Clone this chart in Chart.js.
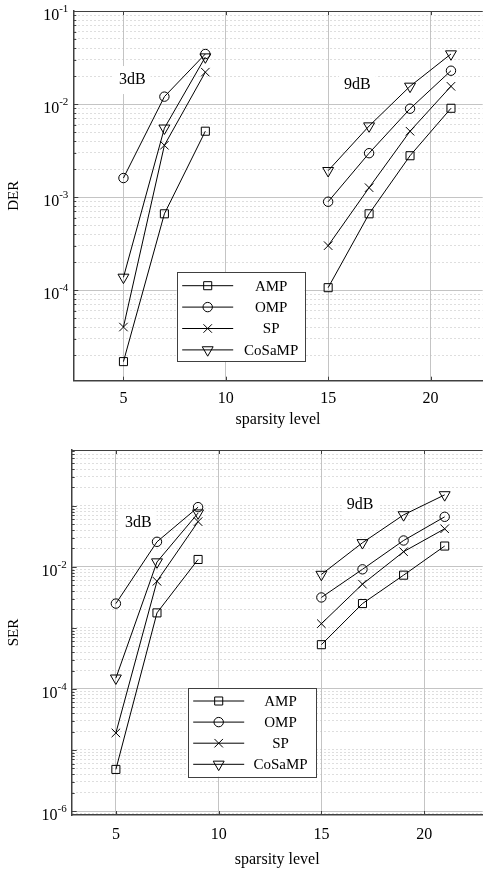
<!DOCTYPE html>
<html><head><meta charset="utf-8">
<script src="https://cdn.jsdelivr.net/npm/chart.js@4/dist/chart.umd.min.js"></script>
<style>
html,body{margin:0;padding:0;background:#fff;overflow:hidden;width:484px;height:871px;}
#der{position:absolute;left:0;top:0;}
#ser{position:absolute;left:0;top:440px;}
</style></head><body>
<canvas id="der" width="490" height="440"></canvas>
<canvas id="ser" width="490" height="431"></canvas>
<script>
// ---------------- data ----------------
const algorithms = ['AMP', 'OMP', 'SP', 'CoSaMP'];
const sparsity3dB = [5, 7, 9];
const sparsity9dB = [15, 17, 19, 21];
const xTickValues = [5, 10, 15, 20];
const derTickExponents = [-4, -3, -2, -1];
const serTickExponents = [-6, -4, -2];

// DER (top panel)
const derAMP3 = [1.7e-5, 6.6e-4, 5.1e-3];
const derOMP3 = [1.6e-3, 1.2e-2, 3.45e-2];
const derSP3 = [4.0e-5, 3.6e-3, 2.2e-2];
const derCoSaMP3 = [1.37e-4, 5.5e-3, 3.2e-2];
const derAMP9 = [1.06e-4, 6.6e-4, 2.78e-3, 9.0e-3];
const derOMP9 = [8.9e-4, 2.96e-3, 8.9e-3, 2.28e-2];
const derSP9 = [3.0e-4, 1.26e-3, 5.1e-3, 1.55e-2];
const derCoSaMP9 = [1.92e-3, 5.8e-3, 1.55e-2, 3.45e-2];

// SER (bottom panel)
const serAMP3 = [4.8e-6, 1.76e-3, 1.32e-2];
const serOMP3 = [2.5e-3, 2.57e-2, 9.5e-2];
const serSP3 = [1.9e-5, 5.8e-3, 5.5e-2];
const serCoSaMP3 = [1.5e-4, 1.2e-2, 7.6e-2];
const serAMP9 = [5.3e-4, 2.5e-3, 7.3e-3, 2.19e-2];
const serOMP9 = [3.15e-3, 9.1e-3, 2.7e-2, 6.6e-2];
const serSP9 = [1.17e-3, 5.2e-3, 1.77e-2, 4.2e-2];
const serCoSaMP9 = [7.5e-3, 2.48e-2, 7.1e-2, 0.151];

const derLabels = [{text: '3dB', x: 5.43, y: 0.0181}, {text: '9dB', x: 16.43, y: 0.0161}];
const serLabels = [{text: '3dB', x: 6.09, y: 0.0518}, {text: '9dB', x: 16.88, y: 0.1026}];

// ---------------- styling ----------------
const FONT = "'Liberation Serif', 'Times New Roman', serif";
const AXIS = '#404040';
const MAJOR = '#c4c4c4';
const MINOR = '#bdbdbd';
const markerStyle = {
  AMP: {pointStyle: 'rect', radius: 5.7, rotation: 0},
  OMP: {pointStyle: 'circle', radius: 4.7, rotation: 0},
  SP: {pointStyle: 'crossRot', radius: 6, rotation: 0},
  CoSaMP: {pointStyle: 'triangle', radius: 6.3, rotation: 180}
};

function makeDatasets(series3, series9) {
  const ds = [];
  algorithms.forEach((name, i) => {
    const st = markerStyle[name];
    const base = {
      label: name, borderColor: '#000', borderWidth: 1, showLine: true, tension: 0,
      pointStyle: st.pointStyle, pointRadius: st.radius, pointRotation: st.rotation,
      pointBorderColor: '#000', pointBackgroundColor: 'rgba(0,0,0,0)', pointBorderWidth: 1,
      pointHoverRadius: st.radius, clip: false
    };
    ds.push(Object.assign({}, base, {data: sparsity3dB.map((x, k) => ({x, y: series3[i][k]}))}));
    ds.push(Object.assign({}, base, {data: sparsity9dB.map((x, k) => ({x, y: series9[i][k]}))}));
  });
  return ds;
}

function logTicks(min, max) {
  const t = [];
  for (let e = Math.floor(Math.log10(min)); e <= Math.ceil(Math.log10(max)); e++) {
    for (let m = 1; m <= 9; m++) {
      const v = m * Math.pow(10, e);
      if (v >= min * 0.9999 && v <= max * 1.0001) t.push({value: v, m: m, e: e});
    }
  }
  return t;
}

const framePlugin = {
  id: 'frame',
  afterDraw(chart, args, opts) {
    const {ctx, chartArea: a, scales} = chart;
    ctx.save();
    ctx.strokeStyle = AXIS;
    ctx.lineWidth = 1;
    ctx.beginPath();
    ctx.moveTo(a.left, a.top + 0.5);
    ctx.lineTo(a.right, a.top + 0.5);
    ctx.stroke();
    // inward tick marks
    ctx.beginPath();
    scales.y.ticks.forEach(t => {
      const y = Math.round(scales.y.getPixelForValue(t.value)) + 0.5;
      const len = t.m === 1 ? 5 : 3;
      ctx.moveTo(a.left, y); ctx.lineTo(a.left + len, y);
    });
    scales.x.ticks.forEach(t => {
      const x = Math.round(scales.x.getPixelForValue(t.value)) + 0.5;
      ctx.moveTo(x, a.bottom); ctx.lineTo(x, a.bottom - 4);
      ctx.moveTo(x, a.top); ctx.lineTo(x, a.top + 4);
    });
    ctx.stroke();
    // y tick labels as 10 with raised exponent
    ctx.fillStyle = '#000';
    ctx.textBaseline = 'middle';
    ctx.textAlign = 'right';
    scales.y.ticks.forEach(t => {
      if (!(t.m === 1 && opts.exps.includes(t.e))) return;
      const y = scales.y.getPixelForValue(t.value);
      const ex = String(t.e);
      ctx.font = '11px ' + FONT;
      const ew = ctx.measureText(ex).width;
      const right = a.left - 5;
      ctx.fillText(ex, right, y - 2);
      ctx.font = '16px ' + FONT;
      ctx.fillText('10', right - ew, y + 5);
    });
    ctx.restore();
  }
};

const textPlugin = {
  id: 'dbText',
  beforeDatasetsDraw(chart, args, opts) {
    const {ctx, scales} = chart;
    ctx.save();
    ctx.font = '16px ' + FONT;
    ctx.textAlign = 'center';
    ctx.textBaseline = 'middle';
    opts.items.forEach(it => {
      const x = scales.x.getPixelForValue(it.x);
      const y = scales.y.getPixelForValue(it.y);
      const w = ctx.measureText(it.text).width;
      ctx.fillStyle = '#fff';
      ctx.fillRect(x - w / 2 - 5, y - 14, w + 10, 28);
      ctx.fillStyle = '#000';
      ctx.fillText(it.text, x, y);
    });
    ctx.restore();
  }
};

const legendPlugin = {
  id: 'boxLegend',
  afterDatasetsDraw(chart, args, opts) {
    const {ctx, chartArea: a} = chart;
    const x0 = a.left + opts.dx, y0 = a.top + opts.dy;
    ctx.save();
    ctx.fillStyle = '#fff';
    ctx.fillRect(x0, y0, opts.w, opts.h);
    ctx.strokeStyle = AXIS;
    ctx.lineWidth = 1;
    ctx.strokeRect(Math.round(x0) + 0.5, Math.round(y0) + 0.5, Math.round(opts.w), Math.round(opts.h));
    ctx.font = '15px ' + FONT;
    ctx.textAlign = 'center';
    ctx.textBaseline = 'middle';
    algorithms.forEach((name, i) => {
      const y = y0 + opts.first + i * opts.step;
      const st = markerStyle[name];
      ctx.strokeStyle = '#000';
      ctx.lineWidth = 1;
      ctx.beginPath();
      ctx.moveTo(x0 + 5.5, y); ctx.lineTo(x0 + 56.5, y);
      ctx.stroke();
      ctx.fillStyle = 'rgba(0,0,0,0)';
      Chart.helpers.drawPoint(ctx, {pointStyle: st.pointStyle, rotation: st.rotation, radius: st.radius, borderWidth: 1}, x0 + 31, y);
      ctx.fillStyle = '#000';
      ctx.fillText(name, x0 + opts.textX, y + 1);
    });
    ctx.restore();
  }
};

function makeChart(id, cfg) {
  const isLabeled = t => t && t.m === 1 && cfg.exps.includes(t.e);
  return new Chart(document.getElementById(id), {
    type: 'scatter',
    data: {datasets: makeDatasets(cfg.s3, cfg.s9)},
    plugins: [textPlugin, legendPlugin, framePlugin],
    options: {
      responsive: false,
      animation: false,
      events: [],
      layout: {padding: {top: cfg.padTop, right: cfg.padRight, left: 0, bottom: 0}},
      plugins: {
        legend: {display: false},
        tooltip: {enabled: false},
        dbText: {items: cfg.labels},
        boxLegend: cfg.legend,
        frame: {exps: cfg.exps}
      },
      scales: {
        x: {
          type: 'linear', min: cfg.xmin, max: cfg.xmax,
          afterBuildTicks: s => { s.ticks = xTickValues.map(v => ({value: v})); },
          afterFit: s => { s.height = cfg.xh; s.paddingLeft = 0; s.paddingRight = 0; },
          ticks: {color: '#000', font: {family: FONT, size: 16}, padding: cfg.xTickPad, autoSkip: false, maxRotation: 0,
                  callback: v => String(v)},
          grid: {color: MAJOR, lineWidth: 1, drawTicks: false},
          border: {color: AXIS, width: 1.5},
          title: {display: true, text: 'sparsity level', color: '#000', font: {family: FONT, size: 16}, padding: {top: 0, bottom: cfg.xTitlePad}}
        },
        y: {
          type: 'logarithmic', min: cfg.ymin, max: cfg.ymax,
          afterBuildTicks: s => { s.ticks = logTicks(cfg.ymin, cfg.ymax); },
          afterFit: s => { s.width = cfg.yw; s.paddingTop = 0; s.paddingBottom = 0; },
          ticks: {color: '#000', font: {family: FONT, size: 16}, padding: 5, autoSkip: false,
                  callback: () => ''},
          grid: {
            drawTicks: false, lineWidth: 1,
            color: c => isLabeled(c.tick) ? MAJOR : MINOR
          },
          border: {color: AXIS, width: 1.5, dash: c => (c.tick && !isLabeled(c.tick)) ? [1, 3] : []},
          title: {display: true, text: cfg.ytitle, color: '#000', font: {family: FONT, size: 15}, padding: {top: 5, bottom: 0}}
        }
      }
    }
  });
}

makeChart('der', {
  s3: [derAMP3, derOMP3, derSP3, derCoSaMP3],
  s9: [derAMP9, derOMP9, derSP9, derCoSaMP9],
  exps: derTickExponents, labels: derLabels, ytitle: 'DER',
  xmin: 2.55, xmax: 22.55, ymin: 1.06e-5, ymax: 0.1,
  padTop: 11, padRight: 0.7, xh: 59.3, yw: 73.3, xTickPad: 8.4, xTitlePad: 10.4,
  legend: {dx: 103.4, dy: 261.3, w: 128, h: 89.4, first: 13.4, step: 21.4, textX: 94.5}
});

makeChart('ser', {
  s3: [serAMP3, serOMP3, serSP3, serCoSaMP3],
  s9: [serAMP9, serOMP9, serSP9, serCoSaMP9],
  exps: serTickExponents, labels: serLabels, ytitle: 'SER',
  xmin: 2.85, xmax: 22.85, ymin: 8.6e-7, ymax: 0.82,
  padTop: 10, padRight: 2.3, xh: 56, yw: 71.7, xTickPad: 10, xTitlePad: 1.4,
  legend: {dx: 116, dy: 237.7, w: 127.6, h: 89, first: 13.3, step: 21.1, textX: 92.8}
});
</script>
</body></html>
